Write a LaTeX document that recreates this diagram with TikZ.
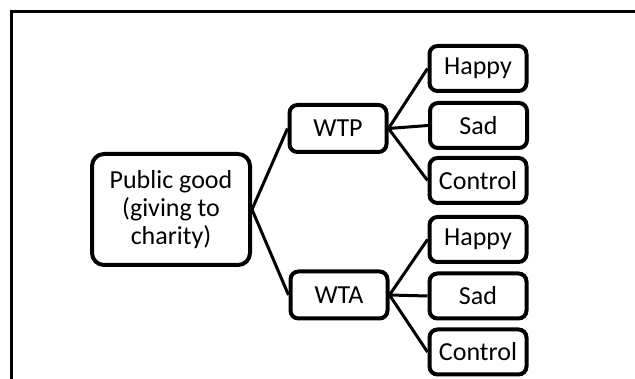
\documentclass[tikz,border=0pt]{standalone}
\usepackage{fontspec}
\setmainfont{Carlito}
\usetikzlibrary{positioning}

\tikzset{
  treebox/.style={draw, line width=4pt, rounded corners=8pt, fill=white,
                  align=center, inner sep=0pt,
                  font=\fontsize{26}{28}\selectfont},
  armbox/.style={treebox, minimum width=97pt, minimum height=47pt},
  condbox/.style={treebox, minimum width=97pt, minimum height=45pt},
  branch/.style={line width=3pt}
}

\begin{document}
\begin{tikzpicture}[x=1pt, y=-1pt]
  \useasboundingbox (0,0) rectangle (635,379);
  % frame
  \draw[line width=3pt] (11,381) -- (11,12) -- (637,12);

  \node[treebox, rounded corners=12pt, minimum width=158pt, minimum height=111pt]
    (root) at (171,209.5) {Public good\\(giving to\\charity)};

  \node[armbox] (wtp) at (338,128.5) {WTP};
  \node[armbox] (wta) at (339,295) {WTA};

  \node[condbox] (wtphappy)   at (478,68.5)  {Happy};
  \node[condbox] (wtpsad)     at (478.5,125.5) {Sad};
  \node[condbox] (wtpcontrol) at (478,180.5) {Control};

  \node[condbox] (wtahappy)   at (478,239.5) {Happy};
  \node[condbox] (wtasad)     at (478,296)   {Sad};
  \node[condbox] (wtacontrol) at (478,352)   {Control};

  % branches
  \draw[branch] (root.east) -- (wtp.west);
  \draw[branch] (root.east) -- (wta.west);
  \foreach \c in {happy,sad,control} {
    \draw[branch] (wtp.east) -- (wtp\c.west);
    \draw[branch] (wta.east) -- (wta\c.west);
  }
\end{tikzpicture}
\end{document}
